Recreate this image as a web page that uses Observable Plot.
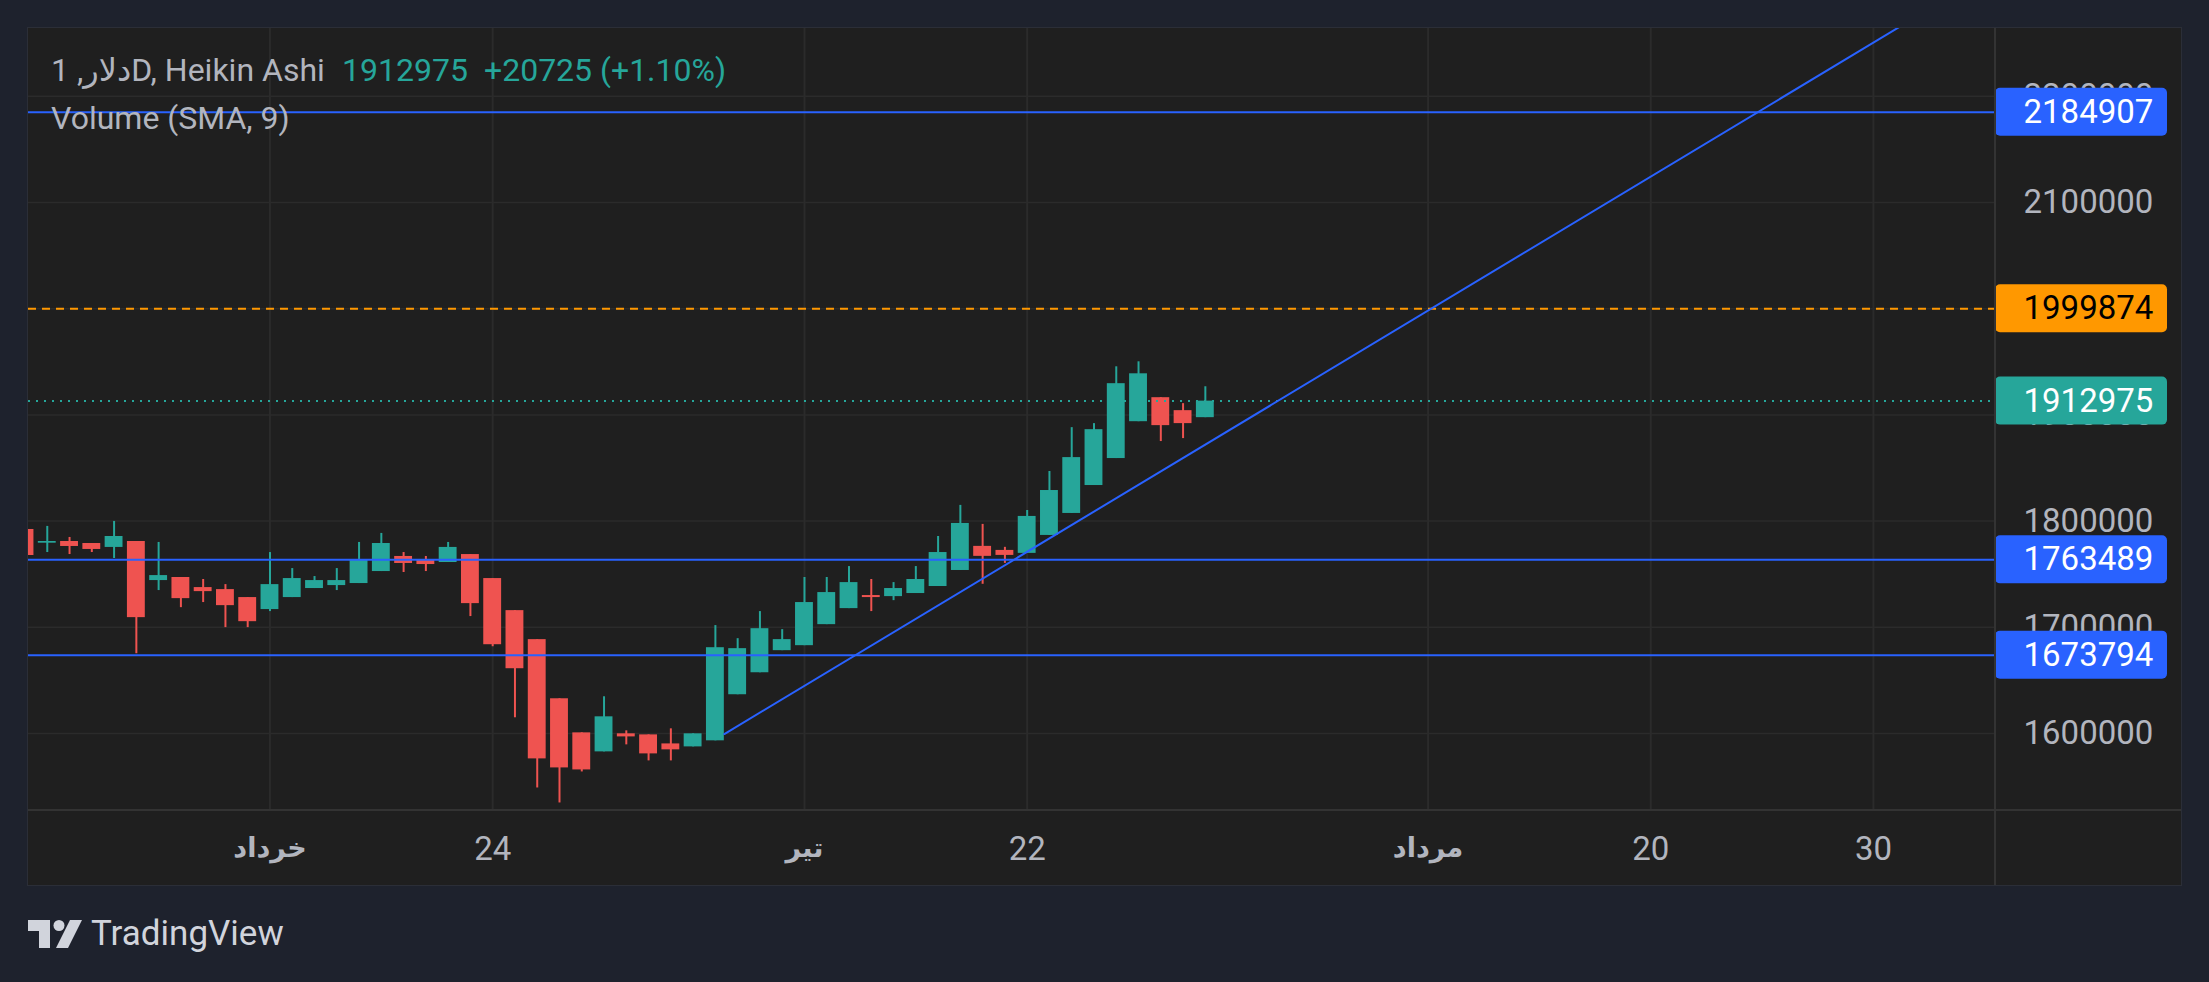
<!DOCTYPE html>
<html>
<head>
<meta charset="utf-8">
<script src="https://cdn.jsdelivr.net/npm/d3@7"></script>
<script src="https://cdn.jsdelivr.net/npm/@observablehq/plot@0.6"></script>
<style>
  html, body { margin: 0; padding: 0; background: #1e222d; width: 2209px; height: 982px; overflow: hidden;
    font-family: Roboto, 'DejaVu Sans', sans-serif; }
  #panel { position: absolute; left: 27px; top: 27px; width: 2153px; height: 857px;
    border: 1px solid #2b2e37; background: #1f1f1f; }
  #chart { position: absolute; left: 0; top: 0; }
  .sepv { position: absolute; left: 1966px; top: 0; width: 2px; height: 857px; background: #333333; }
  .seph { position: absolute; left: 0; top: 781px; width: 2153px; height: 2px; background: #333333; }
  .hdr { position: absolute; font-size: 32px; line-height: 40px; white-space: nowrap; color: #b2b5be; }
  .val { color: #26a69a; }
  #wm { position: absolute; left: 28px; top: 916px; height: 36px; display: flex; align-items: center; }
  #wm span { font-size: 35px; color: #d1d4dc; margin-left: 9px; line-height: 36px; }
</style>
</head>
<body>
<div id="panel">
  <div id="chart"></div>
  <div class="sepv"></div>
  <div class="seph"></div>
  <div class="hdr" style="left:23px; top:22px;">دلار, 1D, Heikin Ashi</div>
  <div class="hdr val" style="left:314px; top:22px;">1912975</div>
  <div class="hdr val" style="left:456px; top:22px;">+20725 (+1.10%)</div>
  <div class="hdr" style="left:23px; top:70px;">Volume (SMA, 9)</div>
</div>
<div id="wm">
  <svg width="54" height="28" viewBox="0 0 54 28">
    <path d="M0 0 H22 V28 H11 V11 H0 Z" fill="#d1d4dc"/>
    <circle cx="31" cy="5.5" r="5.5" fill="#d1d4dc"/>
    <path d="M42 0 H54 L40 28 H28 Z" fill="#d1d4dc"/>
  </svg>
  <span>TradingView</span>
</div>
<script>
// Heikin Ashi daily candles (index 0 is partially cut off at the left edge)
const opens  = [1792100,1779200,1780800,1778900,1775200,1780800,1744000,1746900,1737400,1735500,
                1728000,1716700,1728000,1736500,1739300,1741200,1752500,1766700,1763800,1761000,
                1768500,1745900,1715700,1688400,1632700,1600600,1582700,1599700,1598700,1590200,
                1587400,1593100,1636500,1657200,1678000,1682700,1702500,1717600,1729900,1728900,
                1731800,1738400,1753500,1776200,1772400,1769600,1786500,1807200,1833500,1858900,
                1893600,1916200,1904000,1897400];
const highs  = [1793000,1795000,1784600,1778900,1799700,1780800,1779900,1746900,1745000,1740200,
                1728000,1770400,1755300,1747800,1755300,1779900,1788400,1770400,1766700,1779900,
                1768500,1745900,1715700,1688400,1632700,1600600,1634600,1602500,1598700,1604400,
                1599700,1701600,1689300,1714800,1697800,1746900,1746900,1757200,1745000,1742100,
                1757200,1785500,1814800,1796900,1775300,1810000,1846700,1888000,1891800,1945300,
                1950000,1916200,1910600,1926500];
const lows   = [1766500,1770400,1768500,1770400,1764800,1675100,1734600,1718500,1723300,1699700,
                1699700,1714800,1728000,1736500,1734600,1741200,1752500,1751600,1752500,1761000,
                1710100,1681700,1614800,1548700,1534600,1563800,1582700,1589300,1574200,1574200,
                1587400,1593100,1636500,1657200,1678000,1682700,1702500,1717600,1714800,1725100,
                1731800,1738400,1753500,1740500,1760200,1769600,1786500,1807200,1833500,1858900,
                1893600,1874900,1877700,1897400];
const closes = [1767600,1780800,1776100,1773300,1785500,1709100,1748700,1727000,1733600,1720400,
                1705300,1740200,1745900,1744000,1744000,1763800,1778900,1760100,1759100,1775200,
                1722300,1683600,1661000,1576100,1567600,1565700,1615700,1596800,1580800,1584600,
                1599700,1680800,1679900,1698700,1688400,1723300,1732700,1742100,1728000,1736500,
                1745000,1770400,1797800,1766800,1767700,1804400,1828800,1859800,1886100,1929400,
                1938700,1889900,1891800,1912975];

// Time axis: bar index of each tick and its label
const tickIdx    = [11, 21, 35, 45, 63, 73, 83];
const tickLabels = ["خرداد", "24", "تیر", "22", "مرداد", "20", "30"];
const tickIsMonth = [true, false, true, false, true, false, false];

// Price axis ticks
const priceTicks = [1600000, 1700000, 1800000, 1900000, 2000000, 2100000, 2200000];

// Horizontal levels
const blueLevels  = [2184907, 1763489, 1673794];
const orangeLevel = 1999874;
const lastPrice   = 1912975;

// Trend line anchor points (bar index, price)
const trendIdx   = [31.4, 88.5];
const trendPrice = [1599500, 2320000];

const GREEN = "#26a69a", RED = "#ef5350", BLUE = "#2962ff", ORANGE = "#ff9800";

const candles = opens.map((o, i) => ({i, o, h: highs[i], l: lows[i], c: closes[i]}));
const col = d => d.c >= d.o ? GREEN : RED;
const trend = trendIdx.map((i, k) => ({i, p: trendPrice[k]}));
const labels = [
  ...blueLevels.map(p => ({p, bg: BLUE, fg: "#ffffff"})),
  {p: orangeLevel, bg: ORANGE, fg: "#000000"},
  {p: lastPrice, bg: GREEN, fg: "#ffffff"}
];
const monthTicks = tickIdx.filter((d, k) => tickIsMonth[k]);
const dayTicks = tickIdx.filter((d, k) => !tickIsMonth[k]);
const lab = d => tickLabels[tickIdx.indexOf(d)];

const W = 2153, H = 857, MR = 186, MB = 75;
const frameW = W - MR;

const chart = Plot.plot({
  width: W, height: H,
  marginLeft: 0, marginTop: 0, marginRight: MR, marginBottom: MB,
  style: {background: "transparent", color: "#b2b5be", fontFamily: "Roboto, 'DejaVu Sans', sans-serif", overflow: "visible"},
  x: {domain: [0.157, 88.48], axis: null, label: null},
  y: {domain: [1527495, 2263842], axis: null, label: null},
  color: {type: "identity"},
  marks: [
    Plot.ruleY(priceTicks, {stroke: "#2b2b2b", strokeWidth: 1.5}),
    Plot.ruleX(tickIdx, {stroke: "#2b2b2b", strokeWidth: 2}),
    Plot.axisY(priceTicks, {anchor: "right", tickSize: 0, tickPadding: 28, fontSize: 33, label: null,
      tickFormat: d => String(d), fill: "#b2b5be"}),
    Plot.axisX(monthTicks, {anchor: "bottom", tickSize: 0, tickPadding: 27, fontSize: 27, fontWeight: "bold",
      label: null, tickFormat: lab, fill: "#b2b5be"}),
    Plot.axisX(dayTicks, {anchor: "bottom", tickSize: 0, tickPadding: 26, fontSize: 33,
      label: null, tickFormat: lab, fill: "#b2b5be"}),
    Plot.ruleX(candles, {x: "i", y1: "l", y2: "h", stroke: col, strokeWidth: 2, clip: true}),
    Plot.rect(candles, {x1: d => d.i - 0.5, x2: d => d.i + 0.5, y1: "o", y2: "c",
      insetLeft: 2.2, insetRight: 2.2, fill: col, clip: true}),
    Plot.ruleY(blueLevels, {stroke: BLUE, strokeWidth: 2}),
    Plot.ruleY([orangeLevel], {stroke: ORANGE, strokeWidth: 2, strokeDasharray: "8,6"}),
    Plot.ruleY([lastPrice], {stroke: GREEN, strokeWidth: 2, strokeDasharray: "2,6"}),
    Plot.line(trend, {x: "i", y: "p", stroke: BLUE, strokeWidth: 2, clip: true}),
    Plot.rect(labels, {y1: "p", y2: "p", insetLeft: frameW, insetRight: -172,
      insetTop: -24, insetBottom: -24, fill: "bg", rx: 5}),
    Plot.text(labels, {y: "p", text: d => String(d.p), frameAnchor: "right", dx: 28,
      textAnchor: "start", lineAnchor: "middle", fill: "fg", fontSize: 33})
  ]
});
document.getElementById("chart").appendChild(chart);
</script>
</body>
</html>
